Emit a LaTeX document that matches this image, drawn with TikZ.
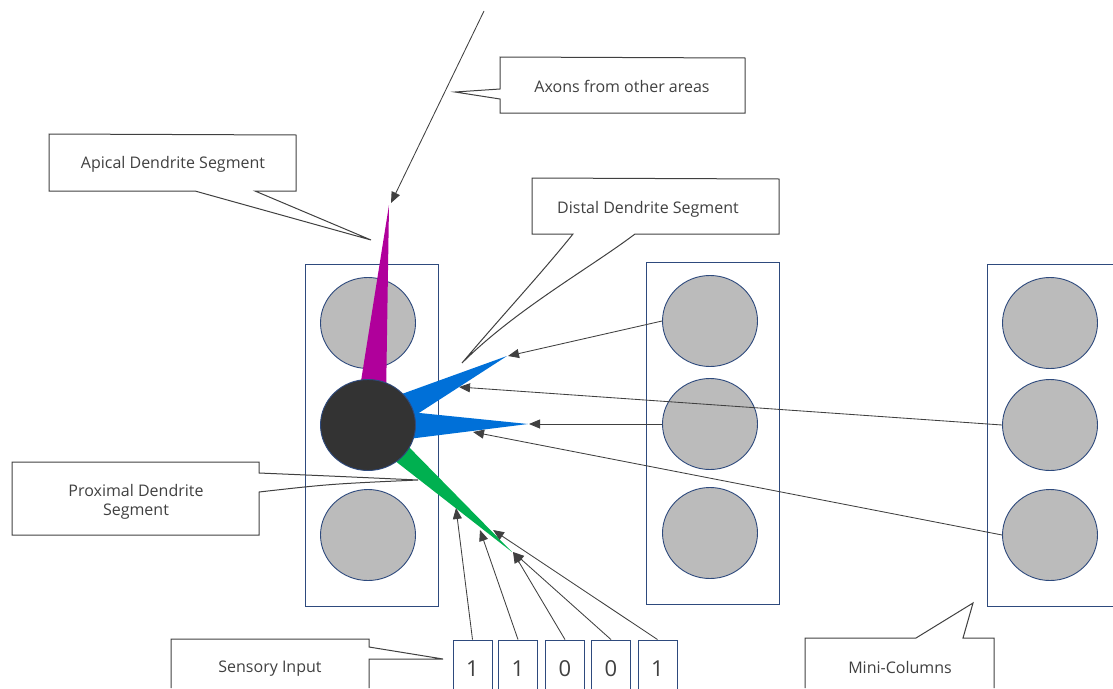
\documentclass[tikz,border=0pt]{standalone}
\usepackage{fontspec}
\setmainfont{Open Sans}
\usetikzlibrary{arrows.meta,shapes.geometric}
\definecolor{navy}{HTML}{2E4A7D}
\definecolor{cellgray}{HTML}{BBBBBB}
\definecolor{darkcell}{HTML}{333333}
\definecolor{apicalc}{HTML}{B0009B}
\definecolor{distalc}{HTML}{0070D8}
\definecolor{proximalc}{HTML}{00B050}
\definecolor{ink}{HTML}{404040}
\definecolor{textgray}{HTML}{404040}
\begin{document}
\begin{tikzpicture}[x=1pt,y=-1pt,
  colbox/.style={draw=navy, line width=0.9pt, minimum width=133pt, minimum height=342pt, inner sep=0pt},
  cell/.style={ellipse, draw=navy, line width=0.9pt, fill=cellgray, minimum width=95pt, minimum height=91pt, inner sep=0pt},
  activecell/.style={cell, fill=darkcell},
  link/.style={draw=ink, line width=0.85pt, -{Triangle[length=11pt,width=9pt]}},
  bubble/.style={draw=ink, line width=1pt, line join=miter},
  calltext/.style={text=textgray, font=\fontsize{16}{19}\selectfont, align=center, inner sep=0pt},
  bitbox/.style={draw=navy, line width=0.9pt, minimum width=39pt, minimum height=58pt, inner sep=0pt, text=textgray, font=\fontsize{22}{26}\selectfont}
]
\useasboundingbox (0,0) rectangle (1113,688);

% mini-columns
\node[colbox] (col1) at (371.5,435) {};
\node[colbox] (col2) at (712.5,433.5) {};
\node[colbox] (col3) at (1053.5,435) {};

% cells
\node[cell] (c1a) at (368,323) {};
\node[cell] (c1c) at (368,535) {};
\node[cell] (c2a) at (710,321) {};
\node[cell] (c2b) at (710,424) {};
\node[cell] (c2c) at (710,533) {};
\node[cell] (c3a) at (1050,323) {};
\node[cell] (c3b) at (1050,425) {};
\node[cell] (c3c) at (1050,535) {};

% dendrite segments
\fill[apicalc] (389,205) -- (386,400) -- (358,400) -- cycle;
\fill[distalc] (507,356) -- (408,420) -- (388,399) -- cycle;
\fill[distalc] (528,424) -- (400,440) -- (400,411) -- cycle;
\fill[proximalc] (512,552) -- (385,453) -- (401,439) -- cycle;

% active cell
\node[activecell] (c1b) at (368,425) {};

% targets
\coordinate (axtop) at (484,11);
\coordinate (apt) at (391,203);
\coordinate (dut) at (508,356);
\coordinate (dlt) at (529,424);
\coordinate (syn1) at (459,387);
\coordinate (syn2) at (473,432);
\coordinate (pr1) at (456,508);
\coordinate (pr2) at (480,530);
\coordinate (pr3) at (513,552);
\coordinate (pr4) at (493,530);

% sensory input bits
\node[bitbox] (b1) at (472.5,669) {1};
\node[bitbox] (b2) at (518,669) {1};
\node[bitbox] (b3) at (565,669) {0};
\node[bitbox] (b4) at (611,669) {0};
\node[bitbox] (b5) at (657.5,669) {1};

% connections
\draw[link] (axtop) -- (apt);
\draw[link] (c2a.west) -- (dut);
\draw[link] (c2b.west) -- (dlt);
\draw[link] (c3b.west) -- (syn1);
\draw[link] (c3c.west) -- (syn2);
\draw[link] (b1.north) -- (pr1);
\draw[link] (b2.north) -- (pr2);
\draw[link] (b3.north) -- (pr3);
\draw[link] (b4.north) -- (pr3);
\draw[link] (b5.north) -- (pr4);

% callouts
\draw[bubble] (500,57) -- (745,58) -- (745,113) -- (500,113) -- (500,99) -- (455,92) -- (500,89) -- cycle;
\node[calltext] (axlbl) at (622,86) {Axons from other areas};

\draw[bubble] (49,134) -- (296,135) -- (296,191) -- (255,191) -- (371,240) -- (195,191) -- (49,191) -- cycle;
\node[calltext] (aplbl) at (173,164) {Apical Dendrite Segment};

\draw[bubble] (532,178) -- (779,179) -- (779,234) -- (635,234)
  .. controls (590,268) and (515,310) .. (462,363)
  .. controls (500,318) and (540,275) .. (573,234) -- (532,234) -- cycle;
\node[calltext] (dslbl) at (648,209) {Distal Dendrite Segment};

\draw[bubble] (12,462) -- (259,462) -- (259,473) .. controls (330,476) .. (418,480)
  .. controls (330,484) .. (259,492) -- (259,535) -- (12,535) -- cycle;
\node[calltext] (prlbl) at (136,502) {Proximal Dendrite\\Segment};

\draw[bubble] (171,688) -- (171,639) -- (369,639) -- (369,647) -- (443,659) -- (369,659) -- (369,688);
\node[calltext] (selbl) at (270,669) {Sensory Input};

\draw[bubble] (805,688) -- (805,638) -- (916,638) -- (973,603) -- (963,638) -- (994,638) -- (994,688);
\node[calltext] (mclbl) at (900,667) {Mini-Columns};
\end{tikzpicture}
\end{document}
